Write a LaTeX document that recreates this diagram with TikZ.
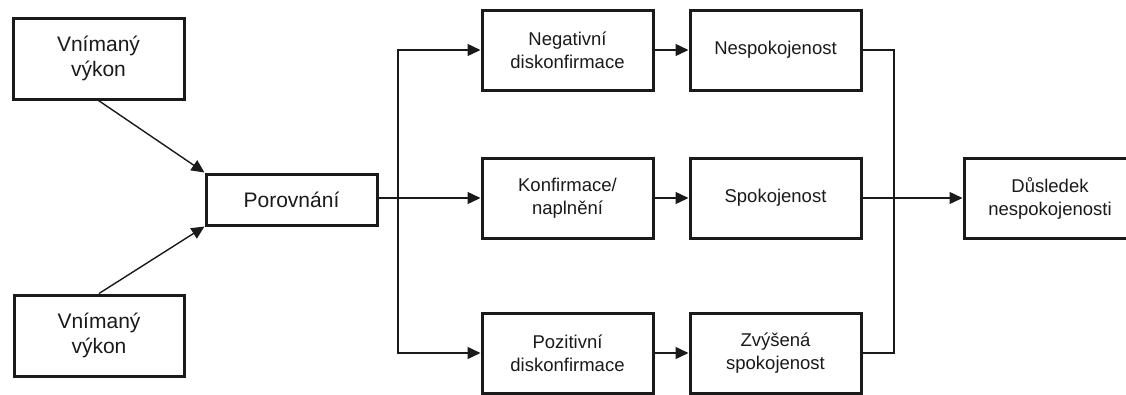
\documentclass[tikz,border=0pt]{standalone}
\usepackage{fontspec}
\setmainfont{Liberation Sans}
\usetikzlibrary{arrows.meta}
\definecolor{ink}{HTML}{1A1A1A}
\begin{document}
\begin{tikzpicture}[x=1pt,y=-1pt,
  box/.style={draw=ink,line width=3pt,rectangle,inner sep=0pt,align=center,text=ink},
  big/.style={box,font=\fontsize{21}{25.5}\selectfont},
  small/.style={box,font=\fontsize{18.5}{23}\selectfont,minimum width=171pt,minimum height=80pt},
  conn/.style={draw=ink,line width=1.4pt},
  arr/.style={conn,-{Triangle[length=13pt,width=12pt]}}]
\clip (0,0) rectangle (1126,394);
\fill[white] (0,0) rectangle (1126,394);
\node[big,minimum width=171pt,minimum height=81pt] (v1) at (98.5,58.5) {Vnímaný\\výkon};
\node[big,minimum width=170pt,minimum height=81pt] (v2) at (99,335.5) {Vnímaný\\výkon};
\node[big,minimum width=171pt,minimum height=51pt] (por) at (291.5,199.5) {Porovnání};
\node[small] (neg) at (567.5,50) {Negativní\\diskonfirmace};
\node[small] (kon) at (567.5,198) {Konfirmace/\\naplnění};
\node[small] (poz) at (567.5,353) {Pozitivní\\diskonfirmace};
\node[small] (nes) at (775.5,50) {Nespokojenost};
\node[small] (spo) at (775.5,198) {Spokojenost};
\node[small] (zvy) at (775.5,353) {Zvýšená\\spokojenost};
\node[small,minimum width=172pt] (dus) at (1050,198) {Důsledek\\nespokojenosti};
\coordinate (jl) at (398,198);
\coordinate (jr) at (894,198);
\draw[arr] (v1.south) -- (por.north west);
\draw[arr] (v2.north) -- (por.south west);
\draw[arr] (por.east |- kon.west) -- (kon.west);
\draw[arr] (jl) |- (neg.west);
\draw[arr] (jl) |- (poz.west);
\draw[arr] (neg.east) -- (nes.west);
\draw[arr] (kon.east) -- (spo.west);
\draw[arr] (poz.east) -- (zvy.west);
\draw[conn] (nes.east) -| (jr) |- (zvy.east);
\draw[arr] (spo.east) -- (dus.west);
\end{tikzpicture}
\end{document}
